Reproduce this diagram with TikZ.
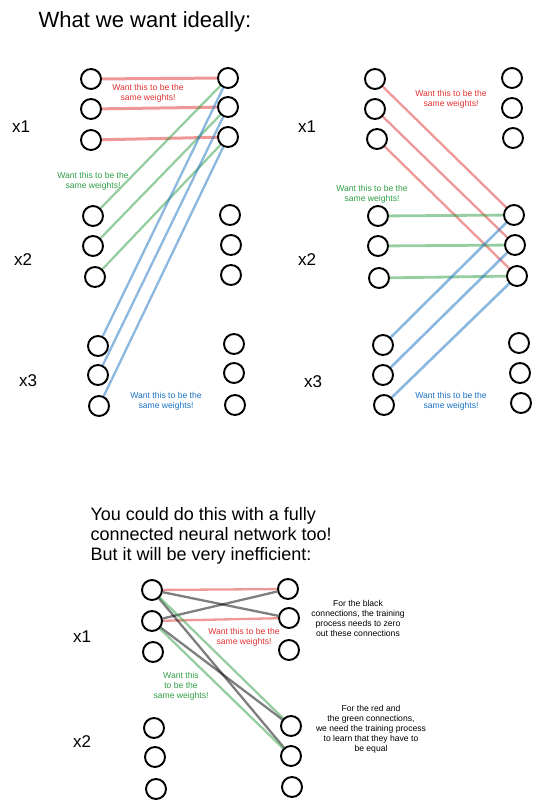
\documentclass[tikz,border=0pt]{standalone}
\usepackage{fontspec}
\setmainfont{Liberation Sans}
\definecolor{redink}{HTML}{E03131}
\definecolor{greenink}{HTML}{2F9E44}
\definecolor{blueink}{HTML}{1971C2}
\tikzset{
  neuron/.style={circle,draw,line width=1.9pt,minimum size=20pt,inner sep=0pt},
  redw/.style={draw=redink,opacity=0.5,line width=2.3pt},
  greenw/.style={draw=greenink,opacity=0.5,line width=2.3pt},
  bluew/.style={draw=blueink,opacity=0.5,line width=2.3pt},
  grayw/.style={draw=black,opacity=0.5,line width=2.3pt},
  note/.style={font=\fontsize{8.6}{10}\selectfont,align=center},
  group/.style={font=\fontsize{17}{17}\selectfont},
  heading/.style={font=\fontsize{18}{20}\selectfont,align=left,anchor=west}
}

\begin{document}
\begin{tikzpicture}[x=1pt,y=-1pt]
\useasboundingbox (0,0) rectangle (540,809);
\node[heading,font=\fontsize{22}{24}\selectfont] (title1) at (35,22) {What we want ideally:};
\begin{scope}
    \foreach \i/\x/\y in {1/91/79,2/91/109,3/91/140,4/93/216,5/93/246,6/95/277,7/98/346,8/98/375,9/99/406}
        \node[neuron] (al\i) at (\x,\y) {};
    \foreach \i/\x/\y in {1/228/78,2/228/107,3/228/137,4/230/215,5/231/245,6/231/275,7/234/344,8/234/373,9/235/405}
        \node[neuron] (ar\i) at (\x,\y) {};
    \node[group] (ax1) at (21,127) {x1};
    \node[group] (ax2) at (23,260) {x2};
    \node[group] (ax3) at (28,381) {x3};
    \foreach \i in {1,2,3}
        \draw[redw,line width=3pt] (al\i) -- (ar\i);
    \foreach \i/\j in {4/1,5/2,6/3}
        \draw[greenw] (al\i) -- (ar\j);
    \foreach \i/\j in {7/1,8/2,9/3}
        \draw[bluew] (al\i) -- (ar\j);
    \node[note,text=redink] (ared) at (148,93) {Want this to be the\\same weights!};
    \node[note,text=greenink] (agreen) at (93,181) {Want this to be the\\same weights!};
    \node[note,text=blueink] (ablue) at (166,401) {Want this to be the\\same weights!};
\end{scope}
\begin{scope}
    \foreach \i/\x/\y in {1/375/79,2/375/109,3/377/139,4/378/216,5/378/246,6/379/278,7/383/345,8/383/375,9/384/405}
        \node[neuron] (bl\i) at (\x,\y) {};
    \foreach \i/\x/\y in {1/512/78,2/512/108,3/513/138,4/514/215,5/515/245,6/517/276,7/519/343,8/520/373,9/521/403}
        \node[neuron] (br\i) at (\x,\y) {};
    \node[group] (bx1) at (307,127) {x1};
    \node[group] (bx2) at (307,260) {x2};
    \node[group] (bx3) at (313,382) {x3};
    \foreach \i/\j in {1/4,2/5,3/6}
        \draw[redw] (bl\i) -- (br\j);
    \foreach \i in {4,5,6}
        \draw[greenw,line width=2.8pt] (bl\i) -- (br\i);
    \foreach \i/\j in {7/4,8/5,9/6}
        \draw[bluew,line width=2.6pt] (bl\i) -- (br\j);
    \node[note,text=redink] (bred) at (451,99) {Want this to be the\\same weights!};
    \node[note,text=greenink] (bgreen) at (372,194) {Want this to be the\\same weights!};
    \node[note,text=blueink] (bblue) at (451,401) {Want this to be the\\same weights!};
\end{scope}
\node[heading] (title2) at (87,536) {You could do this with a fully\\connected neural network too!\\But it will be very inefficient:};
\begin{scope}
    \foreach \i/\x/\y in {1/152/590,2/152/621,3/153/652,4/154/728,5/155/757,6/156/789}
        \node[neuron] (cl\i) at (\x,\y) {};
    \foreach \i/\x/\y in {1/288/589,2/289/618,3/289/650,4/291/726,5/291/756,6/292/787}
        \node[neuron] (cr\i) at (\x,\y) {};
    \node[group] (cx1) at (82,637) {x1};
    \node[group] (cx2) at (82,742) {x2};
    \draw[redw] (cl1) -- (cr1);
    \draw[redw] (cl2) -- (cr2);
    \draw[grayw] (cl1) -- (cr2);
    \draw[grayw] (cl2) -- (cr1);
    \draw[grayw] (cl1) -- (cr5);
    \draw[grayw] (cl2) -- (cr4);
    \draw[greenw] (cl1) -- (cr4);
    \draw[greenw] (cl2) -- (cr5);
    \node[note,text=redink] (cred) at (244,637) {Want this to be the\\same weights!};
    \node[note,text=greenink] (cgreen) at (181,686) {Want this\\to be the\\same weights!};
    \node[note] (cblack) at (358,618) {For the black\\connections, the training\\process needs to zero\\out these connections};
    \node[note] (cequal) at (371,729) {For the red and\\the green connections,\\we need the training process\\to learn that they have to\\be equal};
\end{scope}
\end{tikzpicture}
\end{document}
